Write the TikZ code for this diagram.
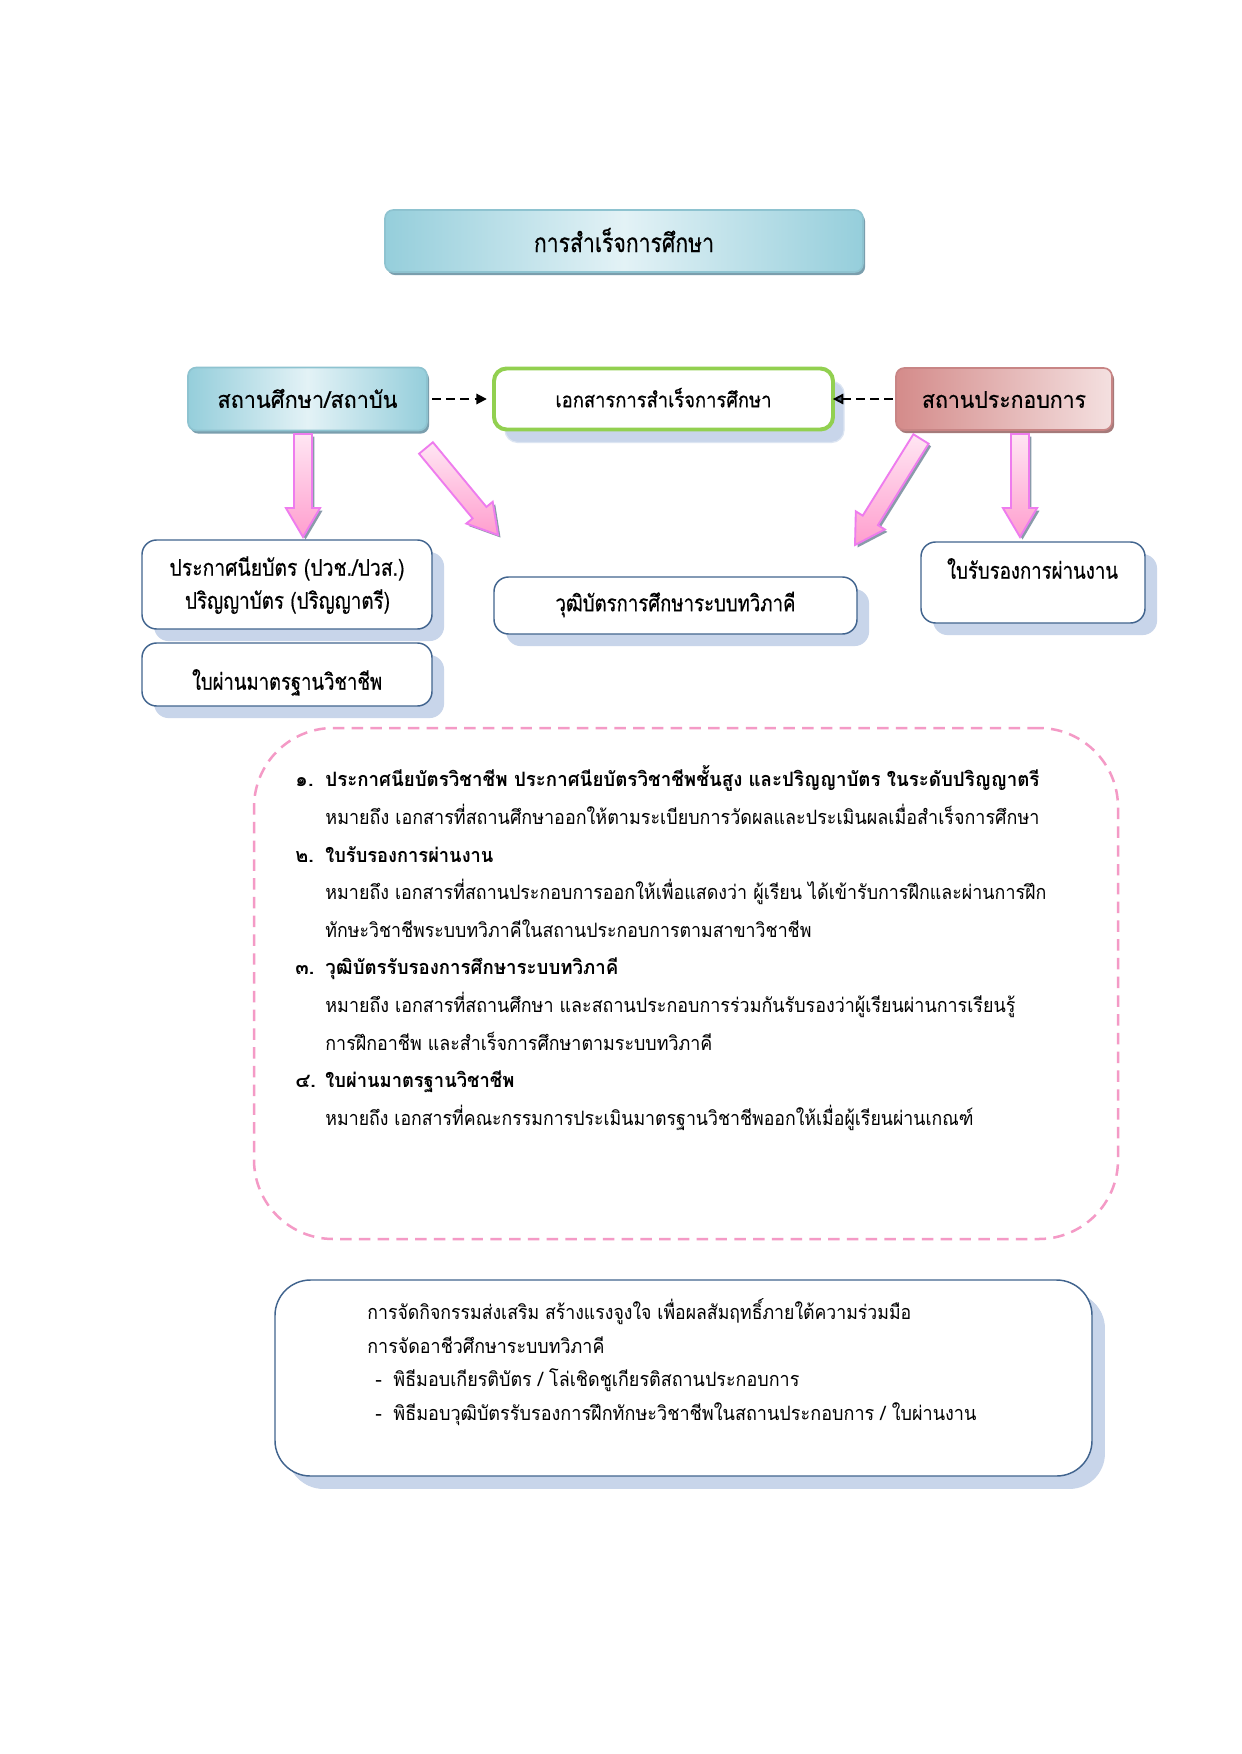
\documentclass[tikz,border=0pt]{standalone}
\usepackage{fontspec}
\usepackage{graphicx}
\setmainfont[Script=Thai]{Loma}
\newfontfamily\labfont[Script=Thai,FakeBold=0.5]{Loma}
\usetikzlibrary{calc,shadows,arrows.meta}
\definecolor{boxline}{HTML}{41648E}
\definecolor{boxshadow}{HTML}{C8D5EA}
\definecolor{boxshadowline}{HTML}{DCE5F2}
\definecolor{tealA}{HTML}{95CEDB}
\definecolor{tealB}{HTML}{E3F2F6}
\definecolor{tealLine}{HTML}{8EC3D0}
\definecolor{tealShadow}{HTML}{7A9EAD}
\definecolor{roseA}{HTML}{D48B8A}
\definecolor{roseB}{HTML}{F4E0E0}
\definecolor{roseLine}{HTML}{C88585}
\definecolor{roseShadow}{HTML}{A57A7A}
\definecolor{docgreen}{HTML}{92D050}
\definecolor{pinkA}{HTML}{FFE6F3}
\definecolor{pinkB}{HTML}{FF9ECE}
\definecolor{pinkLine}{HTML}{EE7CEE}
\definecolor{arrowShadow}{HTML}{8A9BAA}
\definecolor{dashPink}{HTML}{F49AC6}
\definecolor{tipgray}{HTML}{4A5868}
\def\pxu{0.4795pt}
\newsavebox\fitbox
\newcommand\fitw[2]{\sbox\fitbox{#2}\pgfmathsetmacro\fitrat{#1*0.4795/\the\wd\fitbox}\scalebox{\fitrat}[1]{\usebox\fitbox}}
\newcommand\fbody{\fontsize{9.5pt}{11pt}\selectfont}
\newcommand\flab{\labfont\fontsize{11pt}{13pt}\selectfont}
\newcommand\fdoc{\labfont\fontsize{10pt}{12pt}\selectfont}
\newcommand\ftitle{\labfont\fontsize{12.5pt}{14pt}\selectfont}
\newcommand\blockarrow[3]{% tail, tip, neck name
  \coordinate (#3) at ($(#2)!13.9pt!(#1)$);
  \draw[pinkarrow] ($(#1)!4.3pt!90:(#2)$) -- ($(#3)!4.3pt!90:(#2)$) -- ($(#3)!8.2pt!90:(#2)$) -- (#2)
    -- ($(#3)!8.2pt!-90:(#2)$) -- ($(#3)!4.3pt!-90:(#2)$) -- ($(#1)!4.3pt!-90:(#2)$) -- cycle;}
\tikzset{
  sz/.style 2 args={minimum width=#1*\pxu, minimum height=#2*\pxu, inner sep=0pt},
  whitebox/.style={draw=boxline, line width=0.7pt, fill=white, rounded corners=7pt,
    general shadow={fill=boxshadow, shadow xshift=5.8pt, shadow yshift=-5.8pt}},
  tealbox/.style={draw=tealLine, line width=0.8pt, rounded corners=4pt,
    left color=tealA, right color=tealA, middle color=tealB,
    general shadow={fill=tealShadow, shadow xshift=1.0pt, shadow yshift=-1.5pt}},
  rosebox/.style={draw=roseLine, line width=0.8pt, rounded corners=4pt,
    left color=roseA, right color=roseB,
    general shadow={fill=roseShadow, shadow xshift=1.0pt, shadow yshift=-1.5pt}},
  docbox/.style={draw=docgreen, line width=1.9pt, fill=white, rounded corners=6pt,
    general shadow={fill=boxshadow, draw=boxshadowline, line width=0.6pt, shadow xshift=5.3pt, shadow yshift=-6.2pt}},
  pinkarrow/.style={draw=pinkLine, line width=0.9pt, top color=pinkA, bottom color=pinkB, line join=miter,
    general shadow={fill=arrowShadow, shadow xshift=1.2pt, shadow yshift=-1.2pt}},
  dasharrow/.style={line width=0.9pt, dash pattern=on 4.2pt off 2.6pt},
  dashbox/.style={draw=dashPink, line width=1.2pt, dash pattern=on 5.5pt off 3.5pt, rounded corners=38pt},
  lab/.style={inner sep=0pt, font=\flab, text height=5.5pt, text depth=0pt},
  bodyt/.style={anchor=west, inner sep=0pt, font=\fbody, text height=4.75pt, text depth=0pt},
  headt/.style={bodyt, font=\fbody\bfseries},
}
\begin{document}
\begin{tikzpicture}[x=0.4795pt,y=-0.4795pt]
\useasboundingbox (0,0) rectangle (1241,1754);
\fill[white] (0,0) rectangle (1241,1754);

% top row
\node[tealbox, sz={478}{62}, font=\ftitle, text height=10.6pt, text depth=0pt] (title) at (624,241) {\fitw{180}{การสำเร็จการศึกษา}};
\node[docbox, sz={339}{61}, font=\fdoc, text height=7.9pt, text depth=0pt] (doc) at (663.5,399) {\fitw{216}{เอกสารการสำเร็จการศึกษา}};
\node[tealbox, sz={239}{63}, font=\flab, text height=8.4pt, text depth=0pt] (src) at (307.5,399) {\fitw{180}{สถานศึกษา/สถาบัน}};
\node[rosebox, sz={216}{62}, font=\flab, text height=8.4pt, text depth=0pt] (firm) at (1004,399) {\fitw{164}{สถานประกอบการ}};

\draw[dasharrow, -{Triangle[length=5pt,width=5pt]}, shorten <=2pt, shorten >=2.5pt] (src.east) -- (doc.west);
\draw[dasharrow, -{Triangle[length=5pt,width=5pt,fill=tipgray]}, shorten <=1pt, shorten >=-1pt] (firm.west) -- (doc.east);

% block arrows
\coordinate (a1t) at (303,434); \coordinate (a1h) at (303,537);
\coordinate (a2t) at (426,448); \coordinate (a2h) at (498,535);
\coordinate (a3t) at (921,439); \coordinate (a3h) at (855,545);
\coordinate (a4t) at (1020,434); \coordinate (a4h) at (1020,537);
\blockarrow{a1t}{a1h}{a1n}
\blockarrow{a2t}{a2h}{a2n}
\blockarrow{a3t}{a3h}{a3n}
\blockarrow{a4t}{a4h}{a4n}

% document boxes
\node[whitebox, sz={290}{89}] (cert) at (287,584.5) {};
\node[lab] (cert1) at (287,570) {\fitw{235}{ประกาศนียบัตร (ปวช./ปวส.)}};
\node[lab] (cert2) at (287.5,603) {\fitw{205}{ปริญญาบัตร (ปริญญาตรี)}};
\node[whitebox, sz={290}{63}] (std) at (287,674.5) {};
\node[lab] (stdt) at (287,684) {\fitw{190}{ใบผ่านมาตรฐานวิชาชีพ}};
\node[whitebox, sz={363}{57}, font=\flab, text height=5.5pt, text depth=0pt] (dual) at (675.5,605.5) {\fitw{240}{วุฒิบัตรการศึกษาระบบทวิภาคี}};
\node[whitebox, sz={224}{81}] (work) at (1033,582.5) {};
\node[lab] (workt) at (1032.5,573) {\fitw{171}{ใบรับรองการผ่านงาน}};

% definitions box
\node[dashbox, sz={864}{511}] (defs) at (686,983.5) {};
\node[headt] (n1) at (295,782) {๑.};
\node[headt] (h1) at (325,782) {\fitw{714}{ประกาศนียบัตรวิชาชีพ ประกาศนียบัตรวิชาชีพชั้นสูง และปริญญาบัตร ในระดับปริญญาตรี}};
\node[bodyt] (d1) at (325,819.6) {\fitw{714}{หมายถึง เอกสารที่สถานศึกษาออกให้ตามระเบียบการวัดผลและประเมินผลเมื่อสำเร็จการศึกษา}};
\node[headt] (n2) at (295,857.2) {๒.};
\node[headt] (h2) at (325,857.2) {\fitw{168}{ใบรับรองการผ่านงาน}};
\node[bodyt] (d2a) at (325,894.8) {\fitw{721}{หมายถึง เอกสารที่สถานประกอบการออกให้เพื่อแสดงว่า ผู้เรียน ได้เข้ารับการฝึกและผ่านการฝึก}};
\node[bodyt] (d2b) at (325,932.4) {\fitw{486}{ทักษะวิชาชีพระบบทวิภาคีในสถานประกอบการตามสาขาวิชาชีพ}};
\node[headt] (n3) at (295,970) {๓.};
\node[headt] (h3) at (325,970) {\fitw{293}{วุฒิบัตรรับรองการศึกษาระบบทวิภาคี}};
\node[bodyt] (d3a) at (325,1007.6) {\fitw{690}{หมายถึง เอกสารที่สถานศึกษา และสถานประกอบการร่วมกันรับรองว่าผู้เรียนผ่านการเรียนรู้}};
\node[bodyt] (d3b) at (325,1045.2) {\fitw{387}{การฝึกอาชีพ และสำเร็จการศึกษาตามระบบทวิภาคี}};
\node[headt] (n4) at (295,1082.8) {๔.};
\node[headt] (h4) at (325,1082.8) {\fitw{189}{ใบผ่านมาตรฐานวิชาชีพ}};
\node[bodyt] (d4) at (325,1120.4) {\fitw{648}{หมายถึง เอกสารที่คณะกรรมการประเมินมาตรฐานวิชาชีพออกให้เมื่อผู้เรียนผ่านเกณฑ์}};

% activities box
\node[whitebox, rounded corners=17pt, sz={817}{196}, general shadow={fill=boxshadow, shadow xshift=6.2pt, shadow yshift=-6.2pt}] (acts) at (683.5,1378) {};
\node[bodyt] (b1) at (367,1315) {\fitw{544}{การจัดกิจกรรมส่งเสริม สร้างแรงจูงใจ เพื่อผลสัมฤทธิ์ภายใต้ความร่วมมือ}};
\node[bodyt] (b2) at (367,1348.5) {\fitw{237}{การจัดอาชีวศึกษาระบบทวิภาคี}};
\node[bodyt] (b3d) at (375,1382) {-};
\node[bodyt] (b3) at (393,1382) {\fitw{406}{พิธีมอบเกียรติบัตร / โล่เชิดชูเกียรติสถานประกอบการ}};
\node[bodyt] (b4d) at (375,1415.5) {-};
\node[bodyt] (b4) at (393,1415.5) {\fitw{583}{พิธีมอบวุฒิบัตรรับรองการฝึกทักษะวิชาชีพในสถานประกอบการ / ใบผ่านงาน}};
\end{tikzpicture}
\end{document}
